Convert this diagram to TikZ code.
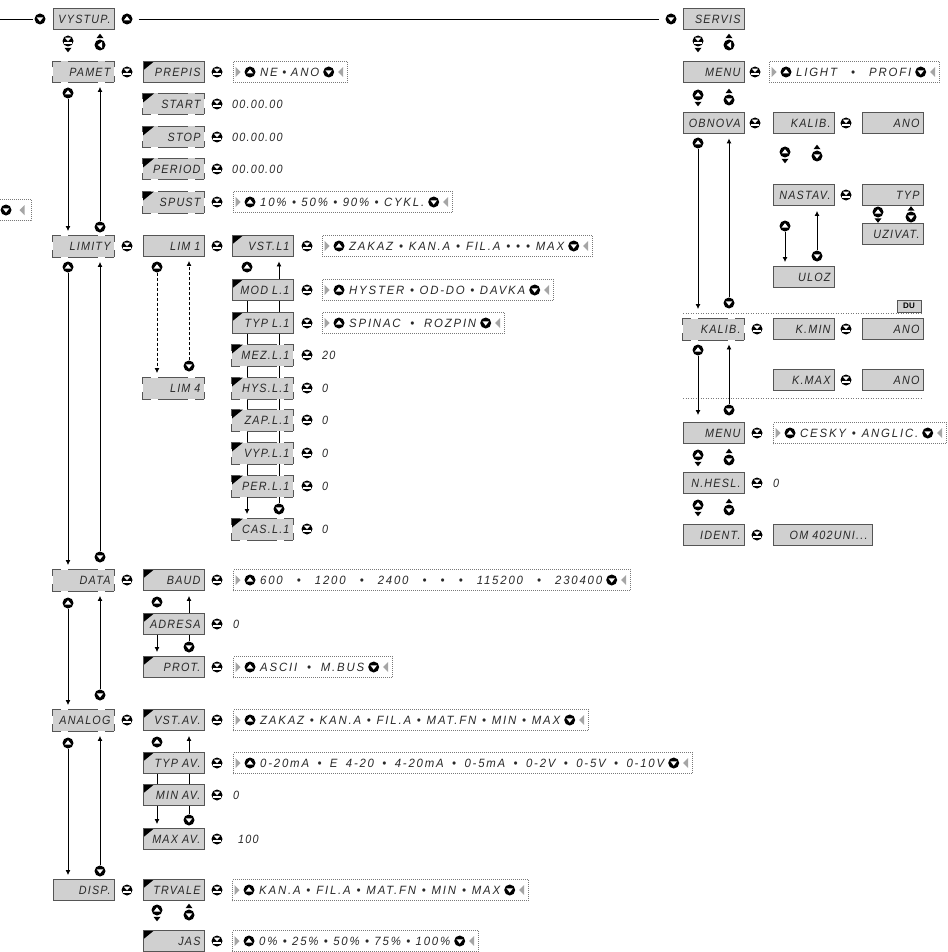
\documentclass[tikz,border=0pt]{standalone}
\usepackage{fontspec}
\setmainfont{Liberation Sans}
\newfontfamily\lcdfont[FakeStretch=0.9,LetterSpace=10]{Liberation Sans}
\newfontfamily\optfont[FakeStretch=0.95,LetterSpace=15]{Liberation Sans}
\usetikzlibrary{arrows.meta}
\pgfdeclarelayer{background}
\pgfsetlayers{background,main}
\definecolor{boxgray}{RGB}{208,208,208}
\definecolor{boxedge}{RGB}{85,85,85}
\definecolor{dotgray}{RGB}{120,120,120}
\definecolor{trigray}{RGB}{165,165,165}
\definecolor{lcdtext}{RGB}{40,40,40}
\newcommand\optrow[5]{%
  \pgfmathsetmacro\optw{#3-#2}%
  \pgfmathsetmacro\optt{#3-#2-55}%
  \node[optf, minimum width=\optw pt, anchor=west] (#1) at (#2,#4) {};
  \pic at ([xshift=5pt]#1.west) {gtr};
  \node[upb] (#1u) at ([xshift=17pt]#1.west) {};
  \node[optxt, anchor=west] (#1t) at ([xshift=27pt]#1.west) {\makebox[\optt pt][s]{#5}};
  \node[dnb] (#1d) at ([xshift=-19pt]#1.east) {};
  \pic at ([xshift=-7pt]#1.east) {gtl};
}
\tikzset{
  lcdf/.style={font=\lcdfont\itshape\fontsize{12}{12}\selectfont, text=lcdtext, inner sep=0pt},
  optxt/.style={font=\optfont\itshape\fontsize{12}{12}\selectfont, text=lcdtext, inner sep=0pt},
  box/.style={rectangle, fill=boxgray, draw=boxedge, line width=0.9pt,
    minimum width=61pt, minimum height=21pt, lcdf, text width=54pt,
    inner xsep=3.5pt, inner ysep=0pt, align=right},
  hd/.style={draw=boxedge, line width=0.9pt, line cap=rect, dash pattern=on 8pt off 8pt on 29pt off 8pt on 8pt},
  vd/.style={draw=boxedge, line width=0.9pt, line cap=rect, dash pattern=on 6pt off 9pt on 6pt},
  dbox/.style={box, draw=none, append after command={
     (\tikzlastnode.north west) edge[hd] (\tikzlastnode.north east)
     (\tikzlastnode.south west) edge[hd] (\tikzlastnode.south east)
     (\tikzlastnode.north west) edge[vd] (\tikzlastnode.south west)
     (\tikzlastnode.north east) edge[vd] (\tikzlastnode.south east)}},
  ctri/.style={path picture={\fill[black] (path picture bounding box.north west) -- ++(11pt,0pt) -- ++(-11pt,-9pt) -- cycle;}},
  btn/.style={circle, fill=black, inner sep=0pt, minimum size=11pt},
  upb/.style={btn, path picture={\fill[white] ([shift={(-3.3pt,-1.5pt)}]path picture bounding box.center) -- ++(6.6pt,0pt) -- ++(-3.3pt,4.3pt) -- cycle;}},
  dnb/.style={btn, path picture={\fill[white] ([shift={(-3.3pt,1.7pt)}]path picture bounding box.center) -- ++(6.6pt,0pt) -- ++(-3.3pt,-4.3pt) -- cycle;}},
  entb/.style={btn, path picture={\fill[white] ([shift={(-3.2pt,3.3pt)}]path picture bounding box.center) -- ++(6.4pt,0pt) -- ++(-3.2pt,-3.6pt) -- cycle;
      \fill[white] ([shift={(-3.6pt,-1.4pt)}]path picture bounding box.center) rectangle ++(7.2pt,-1.4pt);}},
  backb/.style={btn, path picture={\fill[white] ([shift={(2pt,3.2pt)}]path picture bounding box.center) -- ++(0pt,-6.4pt) -- ++(-4.3pt,3.2pt) -- cycle;}},
  pics/gtr/.style={code={\fill[trigray] (-2.5pt,5pt) -- (-2.5pt,-5pt) -- (2.5pt,0pt) -- cycle;}},
  pics/gtl/.style={code={\fill[trigray] (2.5pt,5pt) -- (2.5pt,-5pt) -- (-2.5pt,0pt) -- cycle;}},
  pics/smdn/.style={code={\fill[black] (-3.5pt,2.2pt) -- (3.5pt,2.2pt) -- (0pt,-2.3pt) -- cycle;}},
  pics/smup/.style={code={\fill[black] (-3.5pt,-2.2pt) -- (3.5pt,-2.2pt) -- (0pt,2.3pt) -- cycle;}},
  conn/.style={line width=0.9pt, black},
  arr/.style={conn, -{Latex[length=5pt,width=5pt]}},
  darr/.style={arr, dash pattern=on 3pt off 2pt},
  optf/.style={draw=dotgray, line width=0.7pt, dash pattern=on 0.7pt off 1.3pt, minimum height=21pt, inner sep=0pt},
  sepline/.style={draw=dotgray, line width=0.7pt, dash pattern=on 1pt off 1.5pt},
  dubox/.style={fill=boxgray, draw=boxedge, line width=0.9pt, minimum width=24pt, minimum height=12pt, inner sep=0pt, font=\bfseries\fontsize{8}{8}\selectfont},
}
\begin{document}
\begin{tikzpicture}[x=1pt,y=-1pt]
\useasboundingbox (0,0) rectangle (947,952);
% ---------------- top row
\coordinate (lstart) at (0,19);
\node[dnb] (bv0) at (40,19) {};
\node[box] (vystup) at (83.5,19) {VYSTUP.};
\node[upb] (bv1) at (127,19) {};
\node[dnb] (bs0) at (671,19) {};
\node[box] (servis) at (713.5,19) {SERVIS};
\draw[conn, shorten >=1.5pt] (lstart) -- (bv0);
\draw[conn, shorten <=6pt, shorten >=6pt] (bv1) -- (bs0);
\node[entb] (ev) at (68,41) {};
\pic at (68,50) {smdn};
\pic at (100,36) {smup};
\node[backb] (kv) at (100,45) {};
\node[entb] (es) at (698,41) {};
\pic at (698,50) {smdn};
\pic at (729,36) {smup};
\node[backb] (ks) at (729,45) {};
% ---------------- PAMET group
\node[dbox] (pamet) at (83.5,72) {PAMET};
\node[entb] (e_pamet) at (127,72) {};
\node[box, ctri] (prepis) at (173.5,72) {PREPIS};
\node[entb] (e_prepis) at (217,72) {};
\optrow{oprepis}{233}{347}{72}{NE • ANO}
\node[dbox, ctri] (start) at (173.5,104) {START};
\node[entb] (e_start) at (217,104) {};
\node[lcdf, anchor=west] (v_start) at (232,104) {00.00.00};
\node[dbox, ctri] (stop) at (173.5,137) {STOP};
\node[entb] (e_stop) at (217,137) {};
\node[lcdf, anchor=west] (v_stop) at (232,137) {00.00.00};
\node[dbox, ctri] (period) at (173.5,169) {PERIOD};
\node[entb] (e_period) at (217,169) {};
\node[lcdf, anchor=west] (v_period) at (232,169) {00.00.00};
\node[dbox, ctri] (spust) at (173.5,202) {SPUST};
\node[entb] (e_spust) at (217,202) {};
\optrow{ospust}{233}{452}{202}{10\% • 50\% • 90\% • CYKL.}
% partial option box at the left edge
\node[optf, minimum width=60pt, anchor=east] (opart) at (32,210) {};
\node[dnb] (opartd) at (6,210) {};
\pic at (22,210) {gtl};
% ---------------- LIMITY group
\node[dbox] (limity) at (83.5,246) {LIMITY};
\node[entb] (e_limity) at (127,246) {};
\node[box] (lim1) at (173.5,246) {LIM 1};
\node[entb] (e_lim1) at (217,246) {};
\node[dbox] (lim4) at (173.5,388) {LIM 4};
\node[box, ctri] (vstl) at (262.5,246) {VST.L1};
\node[entb] (e_vstl) at (307,246) {};
\optrow{ovstl}{322}{592}{246}{ZAKAZ • KAN.A • FIL.A • • • MAX}
\node[box, ctri] (modl) at (262.5,290) {MOD L.1};
\node[entb] (e_modl) at (307,290) {};
\optrow{omodl}{322}{553}{290}{HYSTER • OD-DO • DAVKA}
\node[box, ctri] (typl) at (262.5,323) {TYP L.1};
\node[entb] (e_typl) at (307,323) {};
\optrow{otypl}{322}{504}{323}{SPINAC • ROZPIN}
\node[dbox, ctri] (mezl) at (262.5,355) {MEZ.L.1};
\node[entb] (e_mezl) at (307,355) {};
\node[lcdf, anchor=west] (v_mezl) at (322,355) {20};
\node[dbox, ctri] (hysl) at (262.5,388) {HYS.L.1};
\node[entb] (e_hysl) at (307,388) {};
\node[lcdf, anchor=west] (v_hysl) at (322,388) {0};
\node[dbox, ctri] (zapl) at (262.5,420) {ZAP.L.1};
\node[entb] (e_zapl) at (307,420) {};
\node[lcdf, anchor=west] (v_zapl) at (322,420) {0};
\node[dbox, ctri] (vypl) at (262.5,453) {VYP.L.1};
\node[entb] (e_vypl) at (307,453) {};
\node[lcdf, anchor=west] (v_vypl) at (322,453) {0};
\node[dbox, ctri] (perl) at (262.5,486) {PER.L.1};
\node[entb] (e_perl) at (307,486) {};
\node[lcdf, anchor=west] (v_perl) at (322,486) {0};
\node[dbox, ctri] (casl) at (262.5,529) {CAS.L.1};
\node[entb] (e_casl) at (307,529) {};
\node[lcdf, anchor=west] (v_casl) at (322,529) {0};
% LIM1 -> LIM4 (dashed)
\node[upb] (u_lim1) at (157,267) {};
\draw[darr, shorten >=4pt] (u_lim1.south) -- (u_lim1.south |- lim4.north);
\node[dnb] (d_lim4) at (189,366) {};
\draw[darr, shorten >=4pt] (d_lim4.north) -- (d_lim4.north |- lim1.south);
% VST.L1 column
\node[upb] (u_vstl) at (247,267) {};
\draw[arr, shorten >=4.5pt] ([xshift=16.5pt]modl.north) -- ([xshift=16.5pt]vstl.south);
\draw[arr, shorten >=4pt] ([xshift=-15.5pt]perl.south) -- ([xshift=-15.5pt]casl.north);
\node[dnb] (d_casl) at (279,509) {};
\draw[conn] (d_casl.north) -- (d_casl.north |- perl.south);
% ---------------- DATA group
\node[dbox] (data) at (83.5,580) {DATA};
\node[entb] (e_data) at (127,580) {};
\node[box, ctri] (baud) at (173.5,580) {BAUD};
\node[entb] (e_baud) at (217,580) {};
\optrow{obaud}{233}{630}{580}{600 • 1200 • 2400 • • • 115200 • 230400}
\node[box, ctri] (adresa) at (173.5,624) {ADRESA};
\node[entb] (e_adresa) at (217,624) {};
\node[lcdf, anchor=west] (v_adresa) at (233,624) {0};
\node[box, ctri] (prot) at (173.5,667) {PROT.};
\node[entb] (e_prot) at (217,667) {};
\optrow{oprot}{233}{392}{667}{ASCII • M.BUS}
\node[upb] (u_baud) at (157,602) {};
\draw[arr, shorten >=5pt] ([xshift=15.5pt]adresa.north) -- ([xshift=15.5pt]baud.south);
\draw[arr, shorten >=4pt] ([xshift=-16.5pt]adresa.south) -- ([xshift=-16.5pt]prot.north);
\node[dnb] (d_prot) at (189,647) {};
\draw[conn] (d_prot.north) -- (d_prot.north |- adresa.south);
% ---------------- ANALOG group
\node[dbox] (analog) at (83.5,720) {ANALOG};
\node[entb] (e_analog) at (127,720) {};
\node[box, ctri] (vstav) at (173.5,720) {VST.AV.};
\node[entb] (e_vstav) at (217,720) {};
\optrow{ovstav}{233}{588}{720}{ZAKAZ • KAN.A • FIL.A • MAT.FN • MIN • MAX}
\node[box, ctri] (typav) at (173.5,763) {TYP AV.};
\node[entb] (e_typav) at (217,763) {};
\optrow{otypav}{233}{692}{763}{0-20mA • E 4-20 • 4-20mA • 0-5mA • 0-2V • 0-5V • 0-10V}
\node[box, ctri] (minav) at (173.5,795) {MIN AV.};
\node[entb] (e_minav) at (217,795) {};
\node[lcdf, anchor=west] (v_minav) at (233,795) {0};
\node[box, ctri] (maxav) at (173.5,839) {MAX AV.};
\node[entb] (e_maxav) at (217,839) {};
\node[lcdf, anchor=west] (v_maxav) at (238,839) {100};
\node[upb] (u_vstav) at (157,742) {};
\draw[arr, shorten >=5pt] ([xshift=15.5pt]typav.north) -- ([xshift=15.5pt]vstav.south);
\draw[arr, shorten >=4pt] ([xshift=-16.5pt]minav.south) -- ([xshift=-16.5pt]maxav.north);
\node[dnb] (d_maxav) at (189,820) {};
\draw[conn] (d_maxav.north) -- (d_maxav.north |- minav.south);
% ---------------- DISP group
\node[box] (disp) at (83.5,890) {DISP.};
\node[entb] (e_disp) at (127,890) {};
\node[box, ctri] (trvale) at (173.5,890) {TRVALE};
\node[entb] (e_trvale) at (217,890) {};
\optrow{otrvale}{232}{528}{890}{KAN.A • FIL.A • MAT.FN • MIN • MAX}
\node[box, ctri] (jas) at (173.5,941) {JAS};
\node[entb] (e_jas) at (217,941) {};
\optrow{ojas}{232}{478}{941}{0\% • 25\% • 50\% • 75\% • 100\%}
\node[upb] (u_trvale) at (157,910) {};
\pic at (157,919) {smdn};
\pic at (189,906) {smup};
\node[dnb] (d_jas) at (189,915) {};
% ---------------- column A verticals
\node[upb] (u_pamet) at (68,93) {};
\draw[arr, shorten >=4pt] (u_pamet.south) -- (u_pamet.south |- limity.north);
\node[dnb] (d_limity) at (100,227) {};
\draw[arr, shorten >=4pt] (d_limity.north) -- (d_limity.north |- pamet.south);
\node[upb] (u_limity) at (68,267) {};
\draw[arr, shorten >=4pt] (u_limity.south) -- (u_limity.south |- data.north);
\node[dnb] (d_data) at (100,557) {};
\draw[arr, shorten >=5pt] (d_data.north) -- (d_data.north |- limity.south);
\node[upb] (u_data) at (68,603) {};
\draw[arr, shorten >=4pt] (u_data.south) -- (u_data.south |- analog.north);
\node[dnb] (d_analog) at (100,695) {};
\draw[arr, shorten >=5pt] (d_analog.north) -- (d_analog.north |- data.south);
\node[upb] (u_analog) at (68,743) {};
\draw[arr, shorten >=4pt] (u_analog.south) -- (u_analog.south |- disp.north);
\node[dnb] (d_disp) at (100,871) {};
\draw[arr, shorten >=5pt] (d_disp.north) -- (d_disp.north |- analog.south);
% ---------------- SERVIS side
\node[box] (menu) at (713.5,72) {MENU};
\node[entb] (e_menu) at (755,72) {};
\optrow{omenu}{769}{939}{72}{LIGHT • PROFI}
\node[upb] (u_menu) at (698,95) {};
\pic at (698,104) {smdn};
\pic at (729,91) {smup};
\node[dnb] (d_obnova) at (729,100) {};
\node[box] (obnova) at (713.5,123) {OBNOVA};
\node[entb] (e_obnova) at (755,123) {};
\node[box] (kalib) at (803.5,123) {KALIB.};
\node[entb] (e_kalib) at (846,123) {};
\node[box] (ano1) at (892.5,123) {ANO};
\node[upb] (u_kalib) at (785,152) {};
\pic at (785,161) {smdn};
\pic at (817,147) {smup};
\node[dnb] (d_nastav) at (817,156) {};
\node[box] (nastav) at (803.5,195) {NASTAV.};
\node[entb] (e_nastav) at (846,195) {};
\node[box] (typ) at (892.5,195) {TYP};
\node[upb] (u_typ) at (878,212) {};
\pic at (878,220.5) {smdn};
\pic at (911,208.5) {smup};
\node[dnb] (d_uzivat) at (911,217) {};
\node[box] (uzivat) at (892.5,234) {UZIVAT.};
\node[box] (uloz) at (803.5,277) {ULOZ};
\node[upb] (u_nastav) at (785,226) {};
\draw[arr, shorten >=4pt] (u_nastav.south) -- (u_nastav.south |- uloz.north);
\node[dnb] (d_uloz) at (817,256) {};
\draw[arr, shorten >=5pt] (d_uloz.north) -- (d_uloz.north |- nastav.south);
\node[dubox] (du) at (909,306) {DU};
\coordinate (sep1a) at (683,313);
\coordinate (sep1b) at (923,313);
\draw[sepline] (sep1a) -- (sep1b);
\node[dbox] (kalib2) at (713.5,329) {KALIB.};
\node[entb] (e_kalib2) at (757,329) {};
\node[box] (kmin) at (803.5,329) {K.MIN};
\node[entb] (e_kmin) at (846,329) {};
\node[box] (ano2) at (892.5,329) {ANO};
\node[box] (kmax) at (803.5,380) {K.MAX};
\node[entb] (e_kmax) at (846,380) {};
\node[box] (ano3) at (892.5,380) {ANO};
\coordinate (sep2a) at (683,398);
\coordinate (sep2b) at (923,398);
\draw[sepline] (sep2a) -- (sep2b);
\node[upb] (u_obnova) at (698,143) {};
\draw[arr, shorten >=9pt] (u_obnova.south) -- (u_obnova.south |- kalib2.north);
\node[dnb] (d_kalib2) at (729,303) {};
\draw[arr, shorten >=4.5pt] (d_kalib2.north) -- (d_kalib2.north |- obnova.south);
\node[box] (menu2) at (713.5,433) {MENU};
\node[entb] (e_menu2) at (757,433) {};
\optrow{omenutwo}{773}{946}{433}{CESKY • ANGLIC.}
\node[upb] (u_kalib2) at (698,350) {};
\draw[arr, shorten >=7pt] (u_kalib2.south) -- (u_kalib2.south |- menu2.north);
\node[dnb] (d_menu2) at (729,410) {};
\draw[arr, shorten >=4.5pt] (d_menu2.north) -- (d_menu2.north |- kalib2.south);
\node[upb] (u_menu2) at (698,455) {};
\pic at (698,464) {smdn};
\pic at (729,451) {smup};
\node[dnb] (d_nhesl) at (729,460) {};
\node[box] (nhesl) at (713.5,483) {N.HESL.};
\node[entb] (e_nhesl) at (757,483) {};
\node[lcdf, anchor=west] (v_nhesl) at (773,483) {0};
\node[upb] (u_nhesl) at (698,505) {};
\pic at (698,514) {smdn};
\pic at (729,501) {smup};
\node[dnb] (d_ident) at (729,510) {};
\node[box] (ident) at (713.5,535) {IDENT.};
\node[entb] (e_ident) at (757,535) {};
\node[box, minimum width=99pt, text width=90pt] (omuni) at (822.5,535) {OM 402UNI...};
% ---------------- lines running behind boxes
\begin{pgfonlayer}{background}
\draw[conn] ([xshift=-15.5pt]modl.center) -- ([xshift=-15.5pt]perl.center);
\draw[conn] ([xshift=16.5pt]modl.center) -- ([xshift=16.5pt]perl.center);
\draw[conn] ([xshift=-16.5pt]typav.center) -- ([xshift=-16.5pt]minav.center);
\draw[conn] ([xshift=15.5pt]typav.center) -- ([xshift=15.5pt]minav.center);
\end{pgfonlayer}
\end{tikzpicture}
\end{document}
